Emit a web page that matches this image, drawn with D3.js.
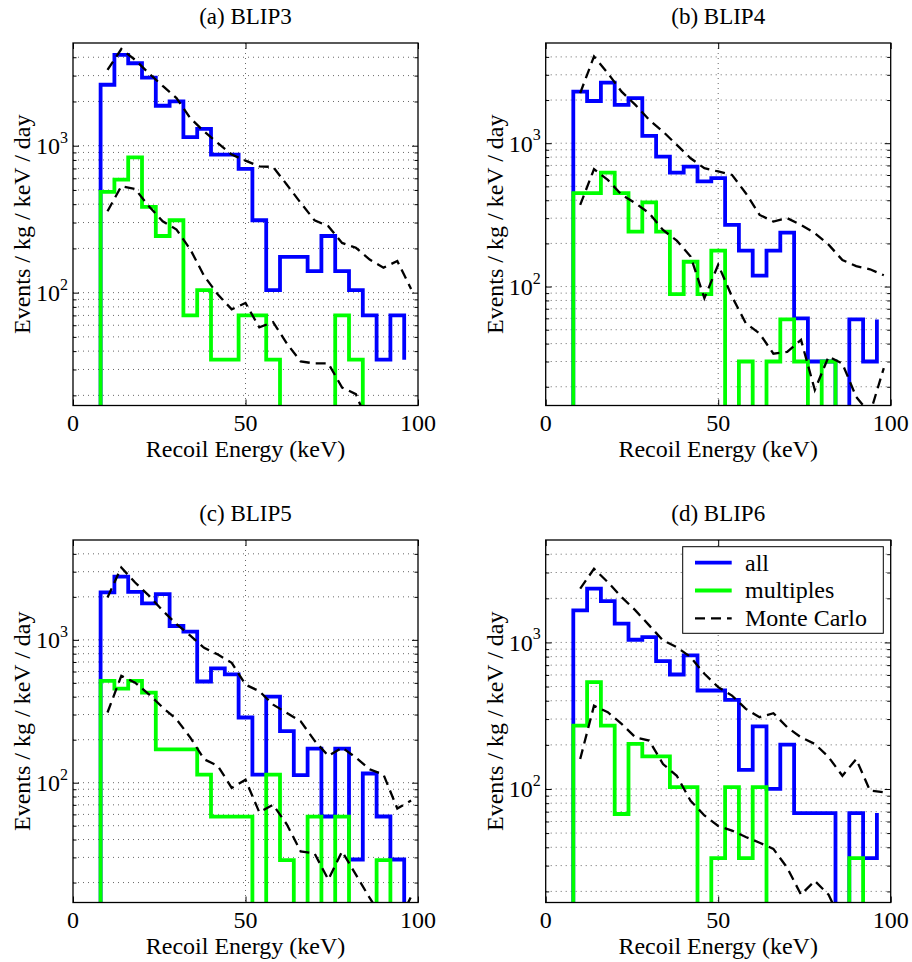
<!DOCTYPE html>
<html>
<head>
<meta charset="utf-8">
<script src="https://cdn.jsdelivr.net/npm/d3@7"></script>
<style>
  body { margin: 0; background: #fff; }
</style>
</head>
<body>
<svg id="chart" width="912" height="962"></svg>
<script>
// bin left edges (keV) for the measured spectra, and bin centres for the Monte Carlo
const edges = [8, 12, 16, 20, 24, 28, 32, 36, 40, 44, 48, 52, 56, 60, 64, 68, 72, 76, 80, 84, 88, 92, 96];
const centers = [10, 14, 18, 22, 26, 30, 34, 38, 42, 46, 50, 54, 58, 62, 66, 70, 74, 78, 82, 86, 90, 94, 98];

const titles = ['(a) BLIP3', '(b) BLIP4', '(c) BLIP5', '(d) BLIP6'];
const xTicks = [0, 50, 100];
const yMin = [17.06, 14.8, 14.5, 16.8];
const yMax = 5000;
const legendLabels = ['all', 'multiples', 'Monte Carlo'];

// (a) BLIP3
const allBlip3 = [2600, 4150, 3640, 2910, 1870, 2000, 1145, 1300, 869, 869, 695, 311, 104, 175, 175, 140, 243, 140, 104, 70, 35, 70, 35];
const multBlip3 = [485, 587, 833, 384, 243, 311, 70, 104, 35, 35, 70, 70, 35, 0, 0, 0, 0, 70, 35, 0, 0, 0, 0];
const mcAllBlip3 = [3280, 4550, 3840, 3110, 2550, 2110, 1540, 1250, 1040, 870, 791, 724, 717, 543, 408, 311, 283, 218, 202, 168, 148, 164, 106];
const mcMultBlip3 = [358, 530, 508, 387, 306, 269, 197, 130, 97, 77, 85, 58, 63, 45, 34, 33, 33, 22.6, 20.4, 12];

// (b) BLIP4
const allBlip4 = [2290, 1970, 2650, 1850, 2060, 1125, 807, 624, 687, 541, 571, 269, 178, 119, 178, 238, 60, 30, 30, 0, 59, 30, 59];
const multBlip4 = [448, 448, 624, 448, 242, 387, 242, 88.5, 149, 88.5, 178, 0, 30, 0, 30, 59, 30, 0, 30, 0, 0, 0, 0];
const mcAllBlip4 = [2235, 4030, 3080, 2290, 1850, 1455, 1206, 973, 785, 669, 635, 601, 448, 316, 284, 300, 269, 236, 196, 153, 139, 132, 120];
const mcMultBlip4 = [371, 659, 555, 437, 381, 325, 248, 209, 162, 83, 142, 85, 55.5, 47, 34, 35, 42.5, 19, 32.5, 29, 17, 13, 27];

// (c) BLIP5
const allBlip5 = [2150, 2770, 2170, 1800, 2090, 1250, 1140, 511, 632, 574, 286, 114, 401, 230, 113, 173, 58, 173, 29, 116, 58, 29, 0];
const multBlip5 = [516, 456, 516, 427, 171, 171, 171, 114, 57.8, 57.8, 57.8, 0, 114, 28.7, 0, 57.8, 0, 57.8, 0, 0, 28.7, 0, 0];
const mcAllBlip5 = [1980, 3210, 2520, 2040, 1600, 1290, 1070, 879, 789, 690, 486, 437, 352, 308, 269, 197, 154, 176, 150, 124, 114, 66, 75];
const mcMultBlip5 = [310, 560, 502, 416, 336, 278, 207, 146, 131, 92, 105, 62, 70, 51, 33, 32, 21, 33, 22.7, 15.6, 11, 10, 16];

// (d) BLIP6
const allBlip6 = [1655, 2330, 1916, 1342, 1043, 1087, 745, 604, 815, 470, 470, 405, 135, 267, 100, 201, 68.5, 68.5, 68.5, 0, 68.5, 33.7, 68.5];
const multBlip6 = [271, 536, 271, 67.5, 203, 167, 167, 103, 103, 0, 33.7, 103, 33.7, 103, 0, 0, 0, 0, 0, 0, 33.7, 0, 0];
const mcAllBlip6 = [2330, 3180, 2580, 2040, 1655, 1307, 1032, 929, 794, 611, 495, 434, 352, 309, 329, 264, 225, 203, 165, 123, 160, 97.5, 95];
const mcMultBlip6 = [160, 370, 334, 278, 225, 214, 148, 123, 83, 66, 56, 52, 47, 43, 39, 29, 19, 23.6, 19, 12];

const panels = [
  { all: allBlip3, mult: multBlip3, mcAll: mcAllBlip3, mcMult: mcMultBlip3 },
  { all: allBlip4, mult: multBlip4, mcAll: mcAllBlip4, mcMult: mcMultBlip4 },
  { all: allBlip5, mult: multBlip5, mcAll: mcAllBlip5, mcMult: mcMultBlip5 },
  { all: allBlip6, mult: multBlip6, mcAll: mcAllBlip6, mcMult: mcMultBlip6 }
];

const FONT = 'Liberation Serif';
const svg = d3.select('#chart');
const cols = [73, 545.7], rows = [43, 540];
const W = 345, H = 362.5;
const FS = 24;

// all labels go through here so the serif face and size sit on the element itself
const label = (sel, size) => sel.append('text')
  .style('font-family', FONT)
  .style('font-size', size + 'px')
  .style('fill', '#000');

panels.forEach((p, i) => {
  const g = svg.append('g')
    .attr('transform', `translate(${cols[i % 2]},${rows[Math.floor(i / 2)]})`);

  const x = d3.scaleLinear().domain([0, 100]).range([0, W]);
  const y = d3.scaleLog().domain([yMin[i], yMax]).range([H, 0]);
  const yv = v => v > 0 ? y(v) : H + 20;   // empty bins drop off the bottom

  g.append('clipPath').attr('id', 'clip' + i)
    .append('rect').attr('width', W).attr('height', H);

  const yt = y.ticks().filter(t => t > yMin[i] && t < yMax);
  const isMajor = t => Math.abs(Math.log10(t) - Math.round(Math.log10(t))) < 1e-9;

  // dotted grid
  const grid = g.append('g')
    .attr('stroke', '#000')
    .attr('stroke-width', 0.6)
    .attr('stroke-dasharray', '1,4');
  grid.selectAll('line.h').data(yt).join('line')
    .attr('class', 'h')
    .attr('x1', 0).attr('x2', W)
    .attr('y1', d => y(d)).attr('y2', d => y(d));
  grid.selectAll('line.v').data(xTicks.slice(1, -1)).join('line')
    .attr('class', 'v')
    .attr('x1', d => x(d)).attr('x2', d => x(d))
    .attr('y1', 0).attr('y2', H);

  const plot = g.append('g').attr('clip-path', `url(#clip${i})`);

  const stairs = d3.line()
    .x(d => x(d[0]))
    .y(d => yv(d[1]))
    .curve(d3.curveStepAfter);
  const steps = vals => [[edges[0], 0]].concat(vals.map((v, k) => [edges[k], v]));

  const mcLine = d3.line().x(d => x(d[0])).y(d => y(d[1]));
  const mcPts = vals => vals.map((v, k) => [centers[k], v]);

  plot.append('path')
    .attr('d', stairs(steps(p.all)))
    .attr('fill', 'none').attr('stroke', '#0000ff').attr('stroke-width', 3.8);
  plot.append('path')
    .attr('d', stairs(steps(p.mult)))
    .attr('fill', 'none').attr('stroke', '#00ff00').attr('stroke-width', 3.8);

  [p.mcAll, p.mcMult].forEach(s => {
    plot.append('path')
      .attr('d', mcLine(mcPts(s)))
      .attr('fill', 'none').attr('stroke', '#000').attr('stroke-width', 2.3)
      .attr('stroke-dasharray', '10,6');
  });

  // box and inward ticks
  g.append('rect')
    .attr('width', W).attr('height', H)
    .attr('fill', 'none').attr('stroke', '#000').attr('stroke-width', 1.3);

  const clean = a => a.call(s => s.select('.domain').remove())
    .call(s => s.selectAll('line').attr('stroke-width', 1));

  g.append('g')
    .attr('transform', `translate(0,${H})`)
    .call(d3.axisBottom(x).tickValues(xTicks).tickSize(-6).tickFormat(''))
    .call(clean);
  g.append('g')
    .call(d3.axisTop(x).tickValues(xTicks).tickSize(-6).tickFormat(''))
    .call(clean);
  xTicks.forEach(t => {
    label(g, FS)
      .attr('x', x(t)).attr('y', H + 25)
      .attr('text-anchor', 'middle')
      .text(t);
  });

  g.append('g')
    .call(d3.axisLeft(y).tickValues(yt).tickFormat(''))
    .call(clean)
    .call(s => s.selectAll('.tick line').attr('x2', d => isMajor(d) ? 6 : 3.5));
  g.append('g')
    .attr('transform', `translate(${W},0)`)
    .call(d3.axisRight(y).tickValues(yt).tickFormat(''))
    .call(clean)
    .call(s => s.selectAll('.tick line').attr('x2', d => isMajor(d) ? -6 : -3.5));

  yt.filter(isMajor).forEach(t => {
    const lab = label(g, FS)
      .attr('x', -5)
      .attr('y', y(t) + 8.5)
      .attr('text-anchor', 'end');
    lab.append('tspan').text('10');
    lab.append('tspan')
      .style('font-size', '16px').attr('dy', -11.5)
      .text(Math.round(Math.log10(t)));
  });

  // titles and axis labels
  label(g, 23)
    .attr('x', W / 2).attr('y', -19)
    .attr('text-anchor', 'middle')
    .text(titles[i]);
  label(g, FS)
    .attr('x', W / 2).attr('y', H + 51.8)
    .attr('text-anchor', 'middle')
    .text('Recoil Energy (keV)');
  label(g, FS)
    .attr('transform', `translate(-43,${H / 2}) rotate(-90)`)
    .attr('text-anchor', 'middle')
    .text('Events / kg / keV / day');

  if (i === 3) {
    const lg = g.append('g').attr('transform', 'translate(137,6.7)');
    lg.append('rect')
      .attr('width', 200.6).attr('height', 86.6)
      .attr('fill', '#fff').attr('stroke', '#000').attr('stroke-width', 1);
    const styles = [
      { c: '#0000ff', w: 3.8, dash: null },
      { c: '#00ff00', w: 3.8, dash: null },
      { c: '#000', w: 2.3, dash: '10,6' }
    ];
    legendLabels.forEach((t, k) => {
      const ry = 16 + k * 27.8;
      lg.append('line')
        .attr('x1', 12.3).attr('x2', 49).attr('y1', ry).attr('y2', ry)
        .attr('stroke', styles[k].c).attr('stroke-width', styles[k].w)
        .attr('stroke-dasharray', styles[k].dash);
      label(lg, FS)
        .attr('x', 62.3).attr('y', ry + 8)
        .text(t);
    });
  }
});
</script>
</body>
</html>
